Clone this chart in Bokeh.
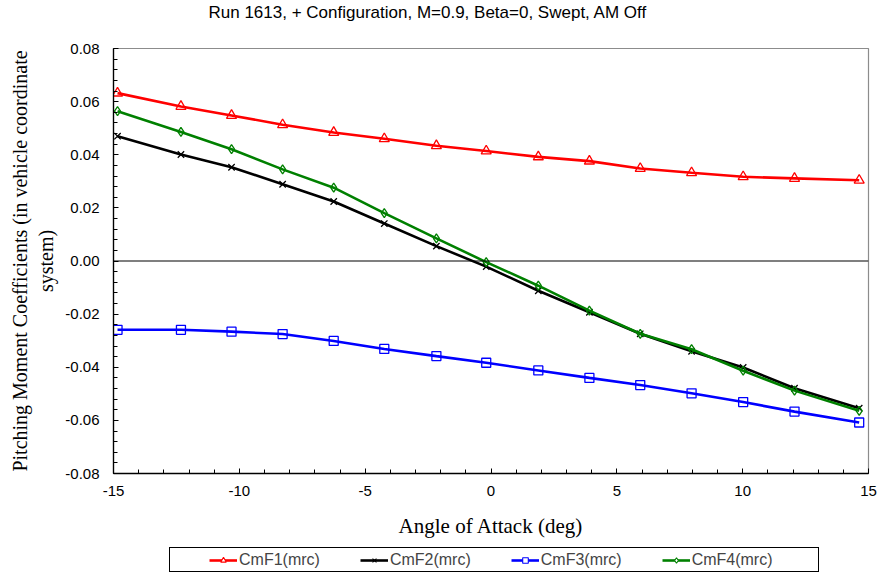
from bokeh.plotting import figure
from bokeh.layouts import column
from bokeh.models import (Range1d, FixedTicker, PrintfTickFormatter, Span, Legend,
                          LegendItem, Title)
from bokeh.embed import file_html
from bokeh.resources import INLINE

# ---- data ----
aoa = [-14.84, -12.32, -10.31, -8.28, -6.25, -4.24, -2.17, -0.19,
       1.88, 3.91, 5.93, 7.97, 10.02, 12.06, 14.63]
cmf1 = [0.0632, 0.0582, 0.0548, 0.0513, 0.0484, 0.0460, 0.0434, 0.0414,
        0.0392, 0.0376, 0.0348, 0.0332, 0.0317, 0.0311, 0.0304]
cmf2 = [0.0470, 0.0401, 0.0353, 0.0289, 0.0224, 0.0141, 0.0056, -0.0021,
        -0.0112, -0.0193, -0.0274, -0.0340, -0.0401, -0.0479, -0.0554]
cmf3 = [-0.0259, -0.0259, -0.0266, -0.0275, -0.0301, -0.0331, -0.0358, -0.0383,
        -0.0412, -0.0440, -0.0467, -0.0498, -0.0531, -0.0567, -0.0608]
cmf4 = [0.0564, 0.0486, 0.0421, 0.0345, 0.0276, 0.0180, 0.0085, -0.0004,
        -0.0093, -0.0187, -0.0274, -0.0332, -0.0413, -0.0488, -0.0564]
series_names = ["CmF1(mrc)", "CmF2(mrc)", "CmF3(mrc)", "CmF4(mrc)"]
x_ticks = [-15, -10, -5, 0, 5, 10, 15]
y_ticks = [-0.08, -0.06, -0.04, -0.02, 0.0, 0.02, 0.04, 0.06, 0.08]

title_text = "Run 1613, + Configuration, M=0.9, Beta=0, Swept, AM Off"
x_label = "Angle of Attack (deg)"
y_label = "Pitching Moment Coefficients (in vehicle coordinate\nsystem)"

SANS = "Liberation Sans"
SERIF = "Liberation Serif"
BL, BR = 113, 13

p = figure(width=881, height=543, output_backend="svg", toolbar_location=None,
           x_range=Range1d(-15, 15), y_range=Range1d(-0.08, 0.08),
           min_border_left=BL, min_border_right=BR, min_border_top=46,
           min_border_bottom=70)

# spacer title (nearest the frame) and the real title above it
p.add_layout(Title(text=" ", text_font_size="1px", standoff=24), "above")
p.add_layout(Title(text=title_text, align="left", offset=95,
                   text_font=SANS, text_font_size="17px", text_font_style="normal",
                   text_color="black", standoff=0), "above")

p.grid.visible = False
p.outline_line_color = "#8c8c8c"
p.outline_line_width = 1.2
p.background_fill_color = "white"
p.border_fill_color = "white"

# axes
xa = p.xaxis[0]
xa.ticker = FixedTicker(ticks=x_ticks, minor_ticks=list(range(-15, 16)))
xa.formatter = PrintfTickFormatter(format="%d")
ya = p.yaxis[0]
minor_y = [round(-0.08 + 0.004 * i, 4) for i in range(41)]
ya.ticker = FixedTicker(ticks=y_ticks, minor_ticks=minor_y)
ya.formatter = PrintfTickFormatter(format="%.2f")

for ax in (xa, ya):
    ax.axis_line_color = "black"
    ax.axis_line_width = 1.3
    ax.major_tick_in = 5
    ax.major_tick_out = 0
    ax.minor_tick_in = 4
    ax.minor_tick_out = 0
    ax.major_tick_line_color = "black"
    ax.minor_tick_line_color = "black"
    ax.major_label_text_font = SANS
    ax.major_label_text_font_size = "15px"
    ax.major_label_text_color = "black"
    ax.axis_label_text_font = SERIF
    ax.axis_label_text_font_style = "normal"
    ax.axis_label_text_color = "black"

xa.axis_label = x_label
xa.axis_label_text_font_size = "21px"
xa.major_label_standoff = 12
xa.axis_label_standoff = 15
ya.axis_label = y_label
ya.axis_label_text_font_size = "20px"
ya.major_label_standoff = 14
ya.axis_label_standoff = 5

# zero line
p.add_layout(Span(location=0, dimension="width", line_color="black", line_width=1.1))

colors = ["#ff0000", "#000000", "#0000ff", "#008000"]
markers = ["triangle", "x", "square", "diamond"]
sizes = [10, 9, 9, 9]
data = [cmf1, cmf2, cmf3, cmf4]
for name, ys, c, m, s in zip(series_names, data, colors, markers, sizes):
    p.line(aoa, ys, line_color=c, line_width=2.6)
    p.scatter(aoa, ys, marker=m, size=s, line_color=c, fill_alpha=0, line_width=1.3)

# ---- legend strip below the chart ----
# same borders as the chart, ranges chosen so its sample renderers stay out of view
lg = figure(width=881, height=34, output_backend="svg", toolbar_location=None,
            x_axis_type=None, y_axis_type=None,
            x_range=Range1d(100, 101), y_range=Range1d(100, 101),
            min_border_left=BL, min_border_right=BR, min_border_top=0,
            min_border_bottom=0)
lg.outline_line_color = None
lg.background_fill_color = "white"
lg.border_fill_color = "white"

# legend box frame
frame_r = lg.line(aoa, cmf1, line_alpha=0)
box = Legend(items=[LegendItem(label=" ", renderers=[frame_r])],
             location=(56, 5), padding=0, margin=0, glyph_width=648,
             glyph_height=23, label_width=0, label_height=23, label_standoff=0,
             label_text_font_size="1px", border_line_color="black",
             border_line_width=1.2, border_line_alpha=1,
             background_fill_color="white", background_fill_alpha=1)
lg.add_layout(box, "center")

items = []
for name, ys, c, m, s in zip(series_names, data, colors, markers, sizes):
    ln = lg.line(aoa, ys, line_color=c, line_width=2.6)
    sc = lg.scatter(aoa, ys, marker=m, size=s - 2, line_color=c, fill_color="white",
                    fill_alpha=1, line_width=1.1)
    items.append(LegendItem(label=name, renderers=[ln, sc]))
legend = Legend(items=items, orientation="horizontal", location=(91, 3),
                label_text_font=SANS, label_text_font_size="16px",
                label_standoff=2, glyph_width=28, glyph_height=14,
                label_height=14, spacing=40, padding=5, margin=0,
                border_line_alpha=0, background_fill_alpha=0)
lg.add_layout(legend, "center")

layout = column(p, lg, spacing=0)
open("out.html", "w").write(file_html(layout, INLINE))
